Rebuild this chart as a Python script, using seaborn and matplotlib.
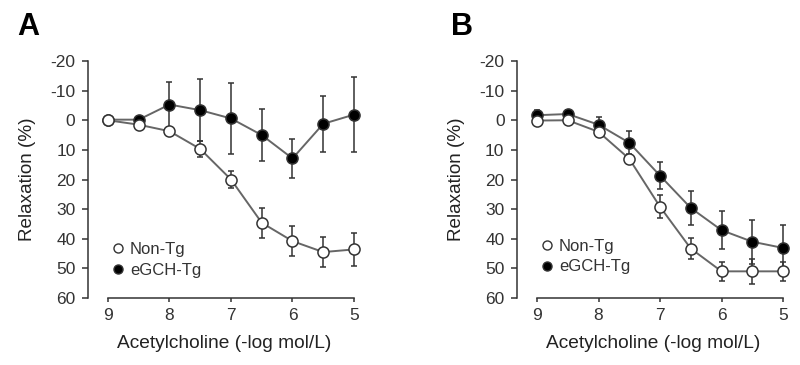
import matplotlib
matplotlib.use("Agg")
import matplotlib.pyplot as plt
import seaborn as sns
import pandas as pd
import numpy as np
from matplotlib.lines import Line2D

# Concentrations (-log mol/L)
conc = [9, 8.5, 8, 7.5, 7, 6.5, 6, 5.5, 5]

# Panel A
a_nontg = [0, 1.5, 3.7, 9.7, 20, 34.6, 40.8, 44.5, 43.6]
a_nontg_err = [0.5, 0.8, 1.2, 2.8, 2.8, 5.0, 5.0, 5.0, 5.7]
a_egch = [-0.2, -0.2, -5.3, -3.4, -0.6, 5.0, 12.9, 1.2, -1.9]
a_egch_err = [0.5, 0.8, 7.5, 10.5, 12.0, 8.8, 6.7, 9.5, 12.6]

# Panel B
b_nontg = [0.1, 0.0, 3.9, 13.0, 29.2, 43.3, 51.0, 51.0, 51.0]
b_nontg_err = [0.8, 0.8, 1.0, 1.5, 3.8, 3.6, 3.3, 4.2, 3.3]
b_egch = [-1.7, -2.1, 1.5, 7.6, 18.7, 29.6, 37.1, 41.0, 43.1]
b_egch_err = [1.8, 1.5, 2.5, 4.0, 4.5, 5.7, 6.3, 7.4, 7.6]

groups = ["Non-Tg", "eGCH-Tg"]
yticks = [-20, -10, 0, 10, 20, 30, 40, 50, 60]
xticks = [9, 8, 7, 6, 5]

sns.set_theme(style="ticks")
plt.rcParams['font.family'] = ['Liberation Sans', 'DejaVu Sans']
plt.rcParams['text.color'] = '#222222'

fig = plt.figure(figsize=(8, 3.65), dpi=100)

W, H = 800.0, 365.0
def make_ax(spine_x):
    left = spine_x / W
    width = 272 / W
    bottom = 1 - 298 / H
    height = (298 - 61) / H
    return fig.add_axes([left, bottom, width, height])

axA = make_ax(88)
axB = make_ax(517)

gray = '#666666'
panels = [
    (axA, a_nontg, a_nontg_err, a_egch, a_egch_err, 0.035),
    (axB, b_nontg, b_nontg_err, b_egch, b_egch_err, 0.05),
]

for ax, nt, nte, eg, ege, legy in panels:
    df = pd.DataFrame({
        "conc": conc * 2,
        "val": nt + eg,
        "err": nte + ege,
        "group": [groups[0]] * len(conc) + [groups[1]] * len(conc),
    })
    for g, z in [(groups[1], 3), (groups[0], 4)]:
        sub = df[df.group == g]
        ax.errorbar(sub.conc, sub.val, yerr=sub.err, fmt='none', ecolor='#333333',
                    elinewidth=1.1, capsize=2.5, capthick=1.1, zorder=z, clip_on=False)
    sns.lineplot(data=df, x="conc", y="val", hue="group", hue_order=groups,
                 palette={groups[0]: gray, groups[1]: gray}, ax=ax, legend=False,
                 linewidth=1.4, zorder=2, sort=False, errorbar=None)
    for g, face, z in [(groups[1], 'black', 5), (groups[0], 'white', 6)]:
        sub = df[df.group == g]
        ax.plot(sub.conc, sub.val, linestyle='none', marker='o', markersize=8,
                markerfacecolor=face, markeredgecolor='#333333', markeredgewidth=1.1,
                zorder=z, clip_on=False)

    xl = 9 + 20 / 61.5
    xr = 9 - (272 - 20) / 61.5
    ax.set_xlim(xl, xr)
    ax.set_ylim(60, -20)
    ax.set_xticks(xticks)
    ax.set_yticks(yticks)
    ax.set_xticklabels([str(t) for t in xticks])
    ax.set_yticklabels([str(t) for t in yticks])
    for s in ['top', 'right']:
        ax.spines[s].set_visible(False)
    ax.spines['left'].set_bounds(-20, 60)
    ax.spines['bottom'].set_bounds(9, 5)
    for s in ['left', 'bottom']:
        ax.spines[s].set_color('#333333')
        ax.spines[s].set_linewidth(1.1)
    ax.tick_params(axis='both', colors='#333333', labelcolor='#333333',
                   labelsize=12.5, width=1.1, length=4)
    ax.tick_params(axis='y', pad=5)
    ax.tick_params(axis='x', pad=4, length=3)
    ax.set_xlabel("Acetylcholine (-log mol/L)", fontsize=13.8, color='#222222', labelpad=9)
    ax.set_ylabel("Relaxation (%)", fontsize=13.6, color='#222222', labelpad=10)
    ax.set_facecolor('white')

    handles = [
        Line2D([], [], linestyle='none', marker='o', markersize=6.5, markerfacecolor='white',
               markeredgecolor='#333333', markeredgewidth=1.0),
        Line2D([], [], linestyle='none', marker='o', markersize=6.5, markerfacecolor='black',
               markeredgecolor='#333333', markeredgewidth=1.0),
    ]
    ax.legend(handles, groups, loc='lower left', bbox_to_anchor=(0.035, legy),
              frameon=False, fontsize=12, handletextpad=0.25, handlelength=1.0,
              labelspacing=0.35, borderpad=0.2, labelcolor='#333333')

fig.text(17 / W, 1 - 35 / H, "A", fontsize=22, fontweight='bold', color='black')
fig.text(451 / W, 1 - 35 / H, "B", fontsize=22, fontweight='bold', color='black')

fig.savefig("out.png", dpi=100, facecolor='white')
